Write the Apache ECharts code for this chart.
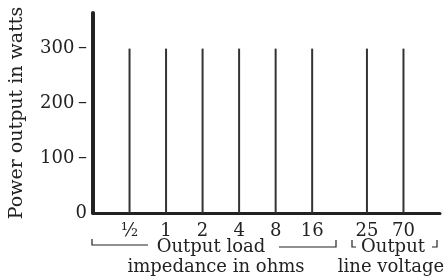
<!DOCTYPE html>
<html><head><meta charset="utf-8">
<script src="https://cdn.jsdelivr.net/npm/echarts@6/dist/echarts.min.js"></script>
<style>html,body{margin:0;padding:0;background:#fff}#c{width:448px;height:280px}</style>
</head><body><div id="c"></div>
<script>
const ohmLabels = ['½','1','2','4','8','16'];
const ohmValues = [300,300,300,300,300,300];
const voltLabels = ['25','70'];
const voltValues = [300,300];
const yTicks = [0,100,200,300];

const labelAt = {};
const data = [];
ohmLabels.forEach((l,i)=>{ labelAt[i] = l; data.push([i, ohmValues[i]]); });
voltLabels.forEach((l,j)=>{ const p = ohmLabels.length + 0.5 + j; labelAt[p] = l; data.push([p, voltValues[j]]); });

const ink = '#222';
const font = 'DejaVu Serif';
const f18 = '18px "DejaVu Serif"';
const chart = echarts.init(document.getElementById('c'), null, {renderer:'canvas'});
chart.setOption({
  animation:false,
  backgroundColor:'#fff',
  grid:{left:93,right:8,top:13,bottom:67,containLabel:false},
  xAxis:{type:'value',min:-1,max:8.5,interval:0.5,
    axisLine:{show:true,onZero:false,lineStyle:{color:ink,width:3}},
    axisTick:{show:false},splitLine:{show:false},
    axisLabel:{color:ink,fontFamily:font,fontSize:18,margin:9,
      formatter:v=> (labelAt[v]!==undefined? labelAt[v] : '')}},
  yAxis:{type:'value',min:0,max:365,interval:100,
    name:'Power output in watts',nameLocation:'middle',nameGap:66,
    nameTextStyle:{color:ink,fontFamily:font,fontSize:19},
    axisLine:{show:true,onZero:false,lineStyle:{color:ink,width:4}},
    axisTick:{show:false},splitLine:{show:false},
    axisLabel:{color:ink,fontFamily:font,fontSize:18,margin:6,showMaxLabel:false,
      formatter:v=> yTicks.indexOf(v)<0 ? '' : (v===0?'0':v+'\u2009–')}},
  series:[{type:'bar',data:data,barWidth:2,itemStyle:{color:'#333'}}],
  graphic:[
    {type:'polyline',shape:{points:[[92,239],[92,245],[148,245]]},style:{stroke:ink,lineWidth:1.2,fill:null}},
    {type:'polyline',shape:{points:[[279,247],[336,247],[336,240]]},style:{stroke:ink,lineWidth:1.2,fill:null}},
    {type:'text',x:211,y:247,style:{text:'Output load',font:f18,fill:ink,align:'center',verticalAlign:'middle'}},
    {type:'text',x:216,y:267,style:{text:'impedance in ohms',font:f18,fill:ink,align:'center',verticalAlign:'middle'}},
    {type:'polyline',shape:{points:[[352,240],[352,247],[356,247]]},style:{stroke:ink,lineWidth:1.2,fill:null}},
    {type:'polyline',shape:{points:[[432,247],[437,247],[437,240]]},style:{stroke:ink,lineWidth:1.2,fill:null}},
    {type:'text',x:393,y:247,style:{text:'Output',font:f18,fill:ink,align:'center',verticalAlign:'middle'}},
    {type:'text',x:391,y:267,style:{text:'line voltage',font:f18,fill:ink,align:'center',verticalAlign:'middle'}}
  ]
});
</script></body></html>
